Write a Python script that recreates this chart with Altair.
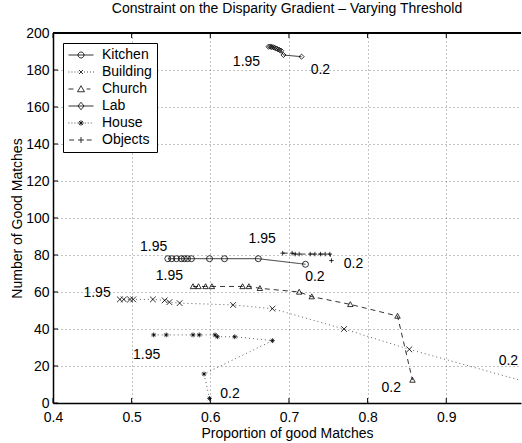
import altair as alt
import pandas as pd

# ---- data: proportion of good matches vs number of good matches, per scene ----
series_names = ["Kitchen", "Building", "Church", "Lab", "House", "Objects"]

kitchen_prop = [0.546, 0.551, 0.557, 0.563, 0.567, 0.571, 0.576, 0.599, 0.618, 0.661, 0.721]
kitchen_good = [78, 78, 78, 78, 78, 78, 78, 78, 78, 78, 75]

building_prop = [0.485, 0.490, 0.498, 0.502, 0.527, 0.542, 0.548, 0.561, 0.629, 0.679, 0.770, 0.853, 1.030]
building_good = [56, 56, 56, 56, 56, 55.5, 54.5, 54, 53, 51, 40, 29, 8]

church_prop = [0.578, 0.585, 0.594, 0.602, 0.641, 0.649, 0.663, 0.713, 0.729, 0.778, 0.838, 0.857]
church_good = [63, 63, 63, 63, 63, 63, 62, 60, 57.5, 53.3, 47, 12.4]

lab_prop = [0.674, 0.676, 0.678, 0.680, 0.682, 0.684, 0.686, 0.688, 0.690, 0.693, 0.716]
lab_good = [192.6, 192.6, 192.5, 192.3, 192, 191.6, 191.2, 190.8, 190.4, 188.1, 187.2]

house_prop = [0.528, 0.544, 0.578, 0.586, 0.606, 0.609, 0.631, 0.679, 0.592, 0.599]
house_good = [36.8, 36.8, 36.8, 36.8, 36.8, 35.8, 35.8, 33.7, 15.7, 2.5]

objects_prop = [0.692, 0.704, 0.708, 0.713, 0.727, 0.733, 0.740, 0.746, 0.752, 0.754]
objects_good = [81, 81, 80.5, 80.5, 80.5, 80.5, 80.5, 80.5, 80.5, 77]

# threshold annotations (text, proportion, good matches)
note_text = ["1.95", "0.2", "1.95", "0.2", "1.95", "0.2", "1.95", "0.2", "1.95", "0.2", "1.95", "0.2"]
note_prop = [0.528, 0.733, 0.456, 0.979, 0.548, 0.830, 0.646, 0.740, 0.519, 0.625, 0.666, 0.782]
note_good = [84.3, 68.1, 59.5, 22.7, 68.4, 8.1, 184.3, 180.0, 25.9, 4.9, 88.6, 75.1]

x_tick_values = [0.4, 0.5, 0.6, 0.7, 0.8, 0.9]
y_tick_values = [0, 20, 40, 60, 80, 100, 120, 140, 160, 180, 200]

frames = []
for name, xs, ys in [
    ("Kitchen", kitchen_prop, kitchen_good),
    ("Building", building_prop, building_good),
    ("Church", church_prop, church_good),
    ("Lab", lab_prop, lab_good),
    ("House", house_prop, house_good),
    ("Objects", objects_prop, objects_good),
]:
    frames.append(pd.DataFrame({"series": name, "proportion": xs, "good": ys,
                                "order": list(range(len(xs)))}))
data = pd.concat(frames, ignore_index=True)

notes = pd.DataFrame({"label": note_text, "proportion": note_prop, "good": note_good})
x_ticks = pd.DataFrame({"proportion": x_tick_values})
y_ticks = pd.DataFrame({"good": y_tick_values})

# ---- layout / style ----
W, H = 468, 370
FONT = "Liberation Sans"
INK = "#000000"

x_scale = alt.Scale(domain=[0.4, 0.995], nice=False, zero=False)
y_scale = alt.Scale(domain=[0, 200], nice=False, zero=False)

axis_common = dict(
    ticks=False, tickSize=0, labelOverlap=False,
    labelFont=FONT, labelFontSize=14, labelColor=INK,
    titleFont=FONT, titleFontSize=14, titleFontWeight="normal", titleColor=INK,
    grid=True, gridDash=[1, 3], gridColor="#555555", gridWidth=0.7,
    domainColor=INK, domainWidth=1.5,
)
x_axis = alt.Axis(values=x_tick_values, format=".1f", title="Proportion of good Matches",
                  labelPadding=7, labelFlush=False, titlePadding=2, **axis_common)
y_axis = alt.Axis(values=y_tick_values, title="Number of Good Matches",
                  labelPadding=4, titlePadding=1, **axis_common)

x_enc = alt.X("proportion:Q", scale=x_scale, axis=x_axis)
y_enc = alt.Y("good:Q", scale=y_scale, axis=y_axis)

# line style per scene: solid, dotted or dashed
dash_range = [[1, 0], [1, 3], [5, 4], [1, 0], [1, 3], [5, 4]]
line_colors = ["#000000", "#333333", "#000000", "#000000", "#333333", "#000000"]

# marker glyphs on the plot
marker_shapes = [
    "circle",
    "M-1,-1L1,1M-1,1L1,-1",
    "M0,-1L1,0.8L-1,0.8Z",
    "diamond",
    "M-1,0L1,0M0,-1L0,1M-0.7,-0.7L0.7,0.7M-0.7,0.7L0.7,-0.7",
    "M-1,0L1,0M0,-1L0,1",
]
marker_sizes = [36, 20, 40, 50, 36, 40]


def dotted(x0, x1, step=0.24, dot=0.07):
    parts = []
    x = x0
    while x < x1:
        parts.append(f"M{x:.3f},0L{x + dot:.3f},0")
        x += step
    return "".join(parts)


# legend glyphs: line sample with the marker in the middle ([-1, 1] = 25 px)
circle_p = "M-0.24,0A0.24,0.24 0 1,0 0.24,0A0.24,0.24 0 1,0 -0.24,0"
cross_p = "M-0.16,-0.16L0.16,0.16M-0.16,0.16L0.16,-0.16"
tri_p = "M0,-0.26L0.28,0.22L-0.28,0.22Z"
diam_p = "M0,-0.3L0.24,0L0,0.3L-0.24,0Z"
star_p = "M-0.22,0L0.22,0M0,-0.22L0,0.22M-0.16,-0.16L0.16,0.16M-0.16,0.16L0.16,-0.16"
plus_p = "M-0.24,0L0.24,0M0,-0.24L0,0.24"
legend_shapes = [
    "M-1,0L1,0" + circle_p,
    dotted(-1, -0.2) + cross_p + dotted(0.25, 1),
    "M-1,0L-0.6,0M0.45,0L0.75,0" + tri_p,
    "M-1,0L1,0" + diam_p,
    dotted(-1, -0.25) + star_p + dotted(0.3, 1),
    "M-0.95,0L-0.55,0M0.45,0L0.85,0" + plus_p,
]

lines = alt.Chart(data).mark_line(strokeWidth=0.8, clip=True).encode(
    x=x_enc,
    y=y_enc,
    detail="series:N",
    order="order:Q",
    strokeDash=alt.StrokeDash("series:N", scale=alt.Scale(domain=series_names, range=dash_range), legend=None),
    color=alt.Color("series:N", scale=alt.Scale(domain=series_names, range=line_colors), legend=None),
)

points = alt.Chart(data).mark_point(filled=False, color=INK, strokeWidth=0.8, opacity=1, clip=True).encode(
    x=x_enc,
    y=y_enc,
    shape=alt.Shape("series:N", scale=alt.Scale(domain=series_names, range=marker_shapes), legend=None),
    size=alt.Size("series:N", scale=alt.Scale(domain=series_names, range=marker_sizes), legend=None),
)

legend_layer = alt.Chart(data).mark_point(filled=False, color=INK, strokeWidth=0.8, opacity=1).encode(
    x=x_enc,
    y=y_enc,
    shape=alt.Shape(
        "series:N",
        scale=alt.Scale(domain=series_names, range=legend_shapes),
        legend=alt.Legend(
            title=None, orient="none", legendX=10, legendY=10,
            symbolSize=625, symbolStrokeWidth=0.8, symbolStrokeColor=INK,
            symbolFillColor="transparent", symbolOffset=0, clipHeight=14,
            labelFont=FONT, labelFontSize=14, labelColor=INK, labelOffset=8,
            padding=5, rowPadding=3, strokeColor=INK, fillColor="white",
        ),
    ),
).transform_filter("datum.order < 0")

labels = alt.Chart(notes).mark_text(font=FONT, fontSize=14, color=INK, align="center", baseline="middle").encode(
    x=x_enc, y=y_enc, text="label:N"
)

# inward tick marks and top frame line
x_ticks_bottom = alt.Chart(x_ticks).mark_rule(color=INK, strokeWidth=1).encode(
    x=x_enc, y=alt.value(H), y2=alt.value(H - 5)
)
x_ticks_top = alt.Chart(x_ticks).mark_rule(color=INK, strokeWidth=1).encode(
    x=x_enc, y=alt.value(0), y2=alt.value(5)
)
y_ticks_left = alt.Chart(y_ticks).mark_rule(color=INK, strokeWidth=1).encode(
    y=y_enc, x=alt.value(0), x2=alt.value(5)
)
top_frame = alt.Chart(x_ticks).mark_rule(color=INK, strokeWidth=1.5).encode(
    x=alt.value(0), x2=alt.value(W), y=alt.value(0)
)

chart = alt.layer(
    lines, points, legend_layer, labels, x_ticks_bottom, x_ticks_top, y_ticks_left, top_frame
).resolve_scale(
    shape="independent", size="independent"
).properties(
    width=W,
    height=H,
    background="white",
    autosize=alt.AutoSizeParams(type="none"),
    padding={"left": 53, "top": 33, "right": 1, "bottom": 40},
    title=alt.TitleParams(
        "Constraint on the Disparity Gradient \u2013 Varying Threshold",
        font=FONT, fontSize=14, fontWeight="normal", color=INK, offset=10, anchor="middle",
    ),
).configure_view(
    stroke=None
)

chart.save("out.html", embed_options={"renderer": "svg", "actions": False})
